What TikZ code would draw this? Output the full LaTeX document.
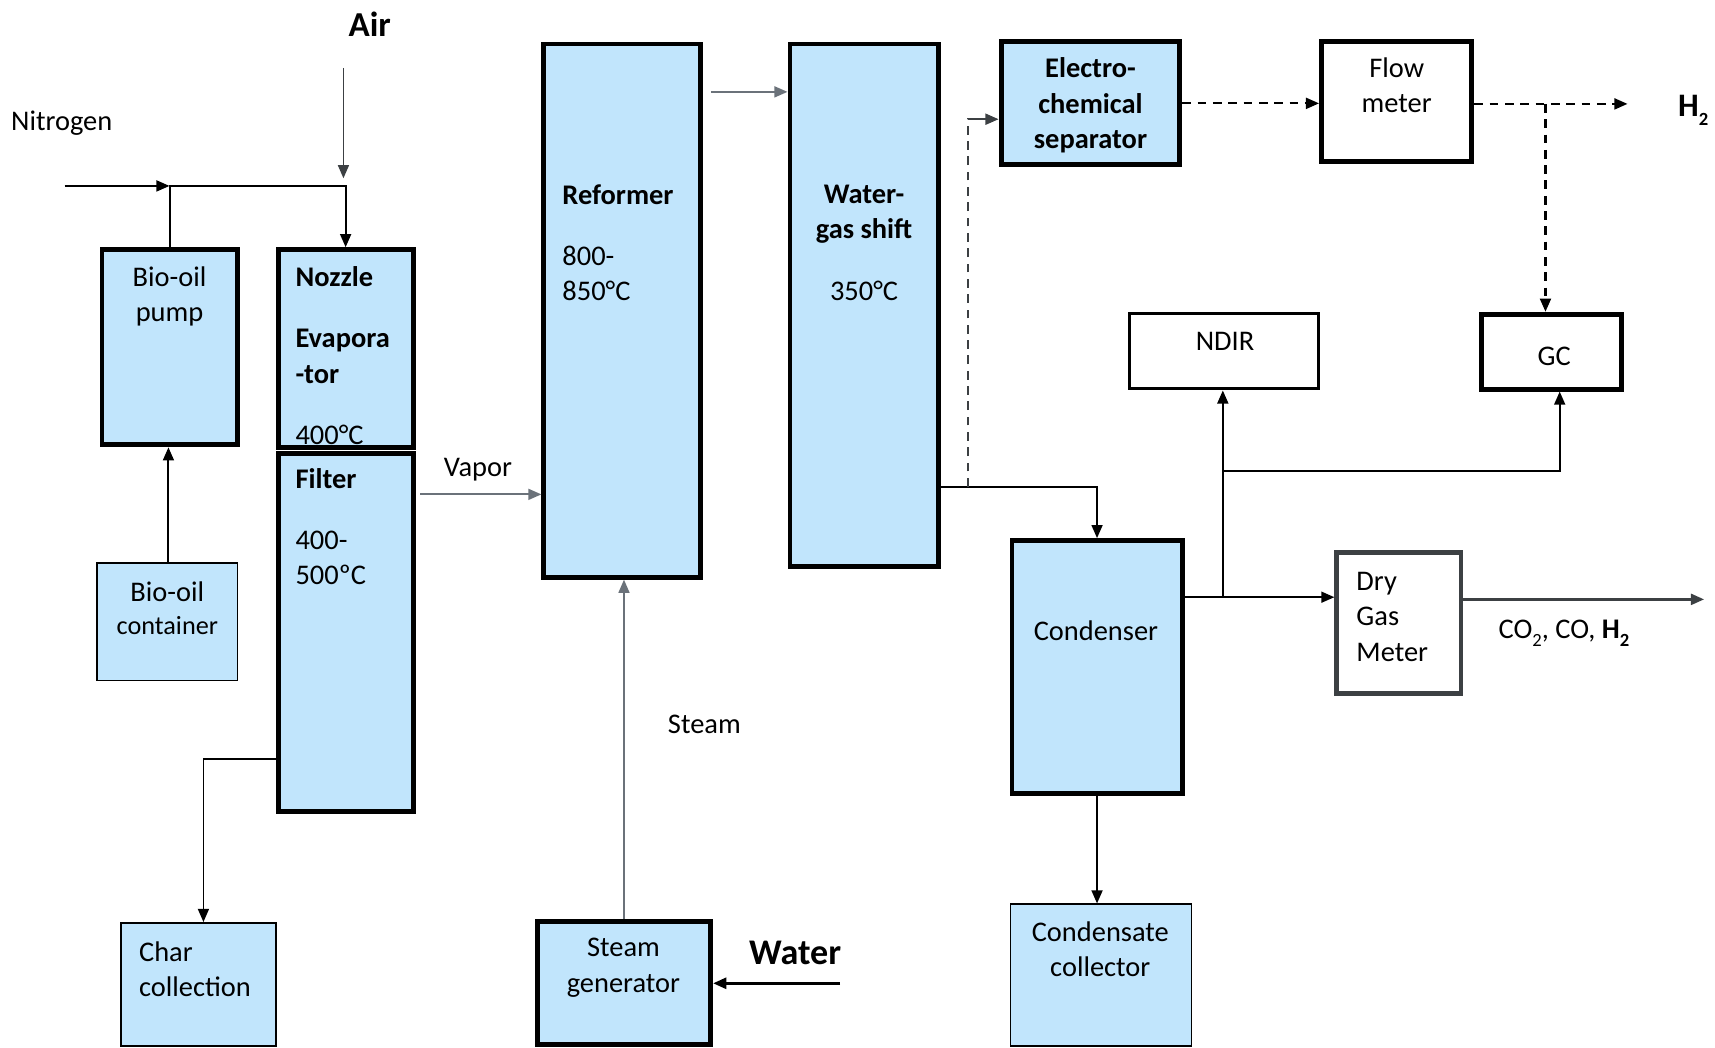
\documentclass[tikz,border=0pt]{standalone}
\usepackage{fontspec}
\setmainfont{Carlito}
\usetikzlibrary{arrows.meta}
\definecolor{boxblue}{RGB}{193,229,252}
\definecolor{slate}{RGB}{107,114,122}
\definecolor{darkg}{RGB}{60,64,67}
\newcommand{\mysub}[1]{\raisebox{-0.28em}{\fontsize{17}{17}\selectfont #1}}
\tikzset{
  thickbox/.style={draw=black, line width=4.5pt, fill=boxblue, inner sep=0pt},
  thinbox/.style={draw=black, line width=1.5pt, fill=boxblue, inner sep=0pt},
  whitebox/.style={draw=black, line width=4.5pt, fill=white, inner sep=0pt},
  txt/.style={font=\fontsize{26}{32.5}\selectfont, inner sep=0pt, align=center},
  btxt/.style={font=\bfseries\fontsize{26}{32.5}\selectfont, inner sep=0pt, align=center},
  tip/.style={-{Triangle[length=12pt,width=10pt]}},
  ln/.style={draw=black, line width=1.8pt},
  gln/.style={draw=slate, line width=1.8pt},
  dsh/.style={draw=black, line width=2pt, dash pattern=on 8pt off 6pt},
}
\begin{document}
\begin{tikzpicture}[x=1pt,y=-1pt]
\useasboundingbox (0,0) rectangle (1568,958);
% boxes
\node[thickbox, minimum width=123.5, minimum height=178.5] (pump) at (155,317.5) {};
\node[thickbox, minimum width=123.5, minimum height=180.5] (noz) at (316,318.5) {};
\node[thickbox, minimum width=123.5, minimum height=327.5] (filter) at (316,578) {};
\node[thinbox, minimum width=128.5, minimum height=107.5] (cont) at (153,568.5) {};
\node[thinbox, minimum width=141.5, minimum height=112.5] (char) at (181.5,900) {};
\node[thickbox, minimum width=143.5, minimum height=487.5] (ref) at (569,284) {};
\node[thickbox, minimum width=135.5, minimum height=477.5] (wgs) at (790,279) {};
\node[thickbox, minimum width=158.5, minimum height=112.5] (sg) at (570.5,898.5) {};
\node[thickbox, minimum width=163.5, minimum height=112.5] (ecs) at (997,94.5) {};
\node[whitebox, minimum width=137.5, minimum height=109.5] (flow) at (1277,93) {};
\node[whitebox, line width=3pt, minimum width=173, minimum height=69] (ndir) at (1119,321) {};
\node[whitebox, minimum width=128.5, minimum height=68.5] (gc) at (1418.5,321.5) {};
\node[thickbox, minimum width=155.5, minimum height=231.5] (cond) at (1003,610) {};
\node[whitebox, draw=darkg, line width=4pt, minimum width=114, minimum height=129] (dgm) at (1279,569.5) {};
\node[thinbox, minimum width=165.5, minimum height=129.5] (cc) at (1006.5,891.5) {};

% texts
\node[btxt, font=\bfseries\fontsize{32}{36}\selectfont] (tair) at (338,22) {Air};
\node[txt, anchor=west] (tn2) at (10,113) {Nitrogen};
\node[txt] (tpump) at (155,271) {Bio-oil\\pump};
\node[btxt, anchor=west] (tnoz) at (270,253) {Nozzle};
\node[btxt, anchor=west, align=left] (tevap) at (270,326) {Evapora\\-tor};
\node[txt, anchor=west] (t400) at (270,398) {400°C};
\node[btxt, anchor=west] (tfil) at (270,438) {Filter};
\node[txt, anchor=west, align=left] (t4500) at (270,510) {400-\\500ºC};
\node[txt] (tcont1) at (153,541) {Bio-oil};
\node[txt, font=\fontsize{24}{30}\selectfont] (tcont2) at (153,572) {container};
\node[txt, anchor=west, align=left] (tchar) at (127,886) {Char\\collection};
\node[txt] (tvap) at (437,429) {Vapor};
\node[btxt, anchor=west] (tref) at (514,178) {Reformer};
\node[txt, anchor=west, align=left] (t800) at (514,250) {800-\\850°C};
\node[btxt] (twgs) at (790,196) {Water-\\gas shift};
\node[txt] (t350) at (790,266) {350°C};
\node[txt] (tsg) at (570,885) {Steam\\generator};
\node[txt] (tsteam) at (644,662) {Steam};
\node[btxt, font=\bfseries\fontsize{33}{36}\selectfont] (twater) at (727,871) {Water};
\node[btxt] (tecs) at (997,96.5) {Electro-\\chemical\\separator};
\node[txt] (tflow) at (1277,78) {Flow\\meter};
\node[btxt, font=\bfseries\fontsize{30}{34}\selectfont] (th2) at (1548,101) {H\mysub{2}};
\node[txt] (tndir) at (1120,312) {NDIR};
\node[txt] (tgc) at (1421,326) {GC};
\node[txt] (tcond) at (1002,577) {Condenser};
\node[txt, anchor=west, align=left] (tdgm) at (1240,564) {Dry\\Gas\\Meter};
\node[txt, anchor=west] (tco) at (1370,579) {CO\mysub{2}, CO, \textbf{H\mysub{2}}};
\node[txt] (tcc) at (1006,868) {Condensate\\collector};

% connectors
\coordinate (airtop) at (314,62);
\coordinate (airend) at (314,163);
\draw[draw=darkg, line width=1.5pt, tip] (airtop) -- (airend);
\coordinate (n2in) at (59,170);
\draw[ln, tip] (n2in) -- (n2in -| pump.north);
\draw[ln, tip] (pump.north) -- (n2in -| pump.north) -- (n2in -| noz.north) -- (noz.north);
\draw[ln, tip] (cont.north -| 154,0) -- (pump.south -| 154,0);
\coordinate (chartap) at (186,694);
\draw[ln, line width=1.5pt, tip] (chartap -| filter.west) -- (chartap) -- (chartap |- char.north);
\coordinate (vapy) at (384,452);
\draw[gln, tip] (vapy) -- (vapy -| ref.west);
\coordinate (r2w) at (650,84);
\draw[gln, tip] (r2w) -- (r2w -| wgs.west);
\draw[draw=slate, line width=1.5pt, tip] (sg.north) -- (sg.north |- ref.south);
\coordinate (win) at (768,899);
\draw[ln, line width=2.5pt, tip] (win) -- (win -| sg.east);
\coordinate (wgsout) at (858,445);
\draw[ln, tip] (wgsout) -- (wgsout -| cond.north) -- (cond.north);
\coordinate (dtap) at (885,445);
\coordinate (dtop) at (885,109);
\draw[dsh, draw=darkg, line width=1.6pt] (dtap) -- (dtop) -- ++(8,0);
\draw[draw=darkg, line width=1.8pt, tip] (893,109) -- (dtop -| ecs.west);
\draw[dsh, tip] (ecs.east) -- (ecs.east -| flow.west);
\coordinate (h2end) at (1488,95);
\draw[dsh, tip] (flow.east |- h2end) -- (h2end);
\coordinate (gctap) at (1413,95);
\draw[dsh, tip] (gctap) -- (gctap |- gc.north);
\coordinate (ctap) at (1118,546);
\draw[ln, tip] (ctap -| cond.east) -- (ctap -| dgm.west);
\draw[ln, tip] (ctap) -- (ctap |- ndir.south);
\coordinate (gtap) at (1118,431);
\coordinate (gcb) at (1426,431);
\draw[ln, tip] (gtap) -- (gcb) -- (gcb |- gc.south);
\coordinate (outend) at (1558,548);
\draw[draw=darkg, line width=2.2pt, tip] (outend -| dgm.east) -- (outend);
\draw[ln, tip] (cond.south) -- (cond.south |- cc.north);
\end{tikzpicture}
\end{document}
